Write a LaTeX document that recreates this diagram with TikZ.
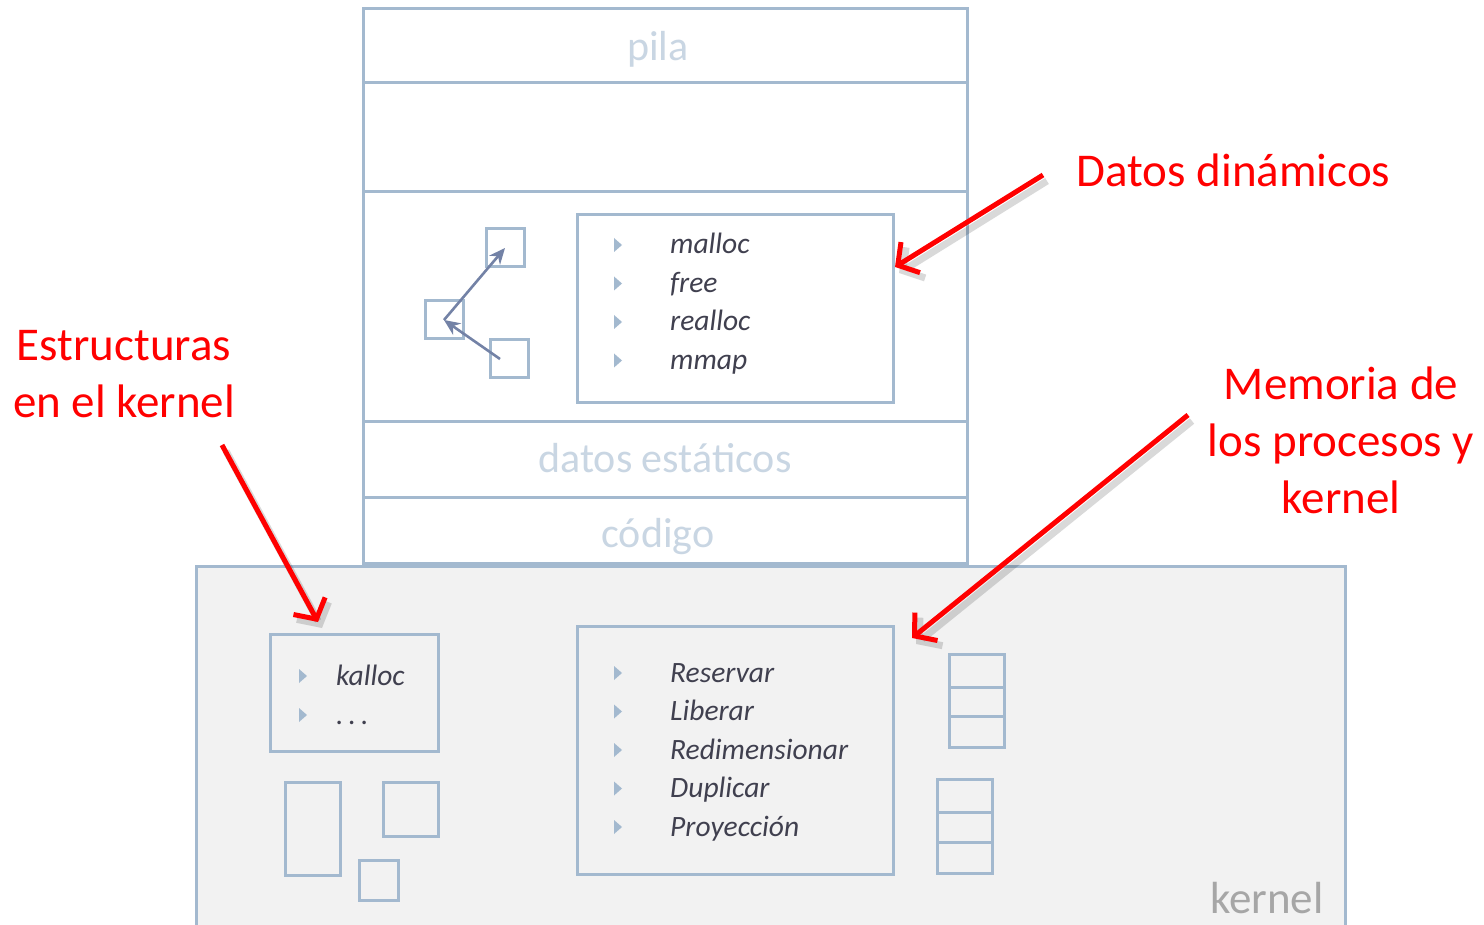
\documentclass[tikz,border=0pt]{standalone}
\usepackage{fontspec}
\setmainfont{Carlito}
\usetikzlibrary{arrows.meta}
\definecolor{rahmen}{HTML}{A3B9CF}
\definecolor{etiqueta}{HTML}{C9D6E3}
\definecolor{kgris}{HTML}{A6A6A6}
\definecolor{fondo}{HTML}{F2F2F2}
\definecolor{texto}{HTML}{40404F}
\definecolor{flecha}{HTML}{7382A6}
\definecolor{rojo}{HTML}{FF0000}
\tikzset{
  caja/.style={draw=rahmen, line width=3pt},
  cuadro/.style={caja, inner sep=0pt, minimum width=#1, minimum height=#1},
  seccion/.style={etiqueta, font=\fontsize{42}{50}\selectfont, anchor=base},
  item/.style={texto, font=\fontsize{29.5}{36}\selectfont\itshape, anchor=base west, inner sep=0pt},
  nota/.style={rojo, font=\fontsize{47}{57}\selectfont, align=center},
  aviso/.style={rojo, line width=5pt, -{Straight Barb[length=15pt, width=36pt]}},
  sombra/.style={black, opacity=0.15, line width=7pt, -{Straight Barb[length=15pt, width=36pt]}},
  bala/.pic={\fill[rahmen] (0,-7) -- (8,0) -- (0,7) -- cycle;}
}
\begin{document}
\begin{tikzpicture}[x=1pt,y=-1pt]
    \useasboundingbox (0,0) rectangle (1484,925);
    % Kernel
    \draw[caja, fill=fondo] (196,566) rectangle (1345,950);
    \node[kgris, font=\fontsize{45}{54}\selectfont, anchor=base east] (kernel) at (1327,913) {kernel};
    % Proceso (pila, heap, datos, codigo)
    \draw[caja, fill=white] (363,9) rectangle (967,563);
    \draw[caja] (363,83) -- (967,83);
    \draw[caja] (363,192) -- (967,192);
    \draw[caja] (363,421) -- (967,421);
    \draw[caja] (363,497) -- (967,497);
    \node[seccion] (pila) at (658,61) {pila};
    \node[seccion] (datos) at (665,472) {datos estáticos};
    \node[seccion] (codigo) at (658,547) {código};

    % Datos dinamicos
    \draw[caja] (577,215) rectangle (893,402);
    \foreach \t [count=\i] in {malloc,free,realloc,mmap} {
        \pic at (614,{245+38.5*(\i-1)}) {bala};
        \node[item] (dyn\i) at (670,{254+38.5*(\i-1)}) {\t};
    }
    % Bloques enlazados
    \node[cuadro=38pt] (blqA) at (505,248) {};
    \node[cuadro=38pt] (blqB) at (444,320) {};
    \node[cuadro=38pt] (blqC) at (509,359) {};
    \draw[flecha, line width=2.6pt, -{Stealth[length=16pt, width=14pt]}] (blqB.center) -- (blqA.center);
    \draw[flecha, line width=2.6pt, -{Stealth[length=16pt, width=14pt]}] ([xshift=-9pt]blqC.center) -- (blqB.center);

    % Estructuras del kernel
    \draw[caja] (270,634) rectangle (438,751);
    \pic at (299,676) {bala};
    \pic at (299,715) {bala};
    \node[item] (kalloc) at (336,685) {kalloc};
    \node[item] (puntos) at (336,724) {.\hspace{5pt}.\hspace{5pt}.};
    \draw[caja] (285,782) rectangle (340,875);
    \draw[caja] (383,782) rectangle (438,836);
    \draw[caja] (359,860) rectangle (398,900);

    % Memoria de los procesos
    \draw[caja] (577,626) rectangle (893,874);
    \foreach \t [count=\i] in {Reservar,Liberar,Redimensionar,Duplicar,Proyección} {
        \pic at (614,{673+38.5*(\i-1)}) {bala};
        \node[item] (mem\i) at (670,{682+38.5*(\i-1)}) {\t};
    }
    \draw[caja] (949,654) rectangle (1004,747);
    \draw[caja] (949,687) -- (1004,687);
    \draw[caja] (949,716) -- (1004,716);
    \draw[caja] (937,779) rectangle (992,873);
    \draw[caja] (937,812) -- (992,812);
    \draw[caja] (937,842) -- (992,842);

    % Anotaciones
    \node[nota, anchor=base west] (dinamicos) at (1073,187) {Datos dinámicos};
    \node[nota] (estructuras) at (124,374) {Estructuras\\en el kernel};
    \node[nota] (memoria) at (1341,440) {Memoria de\\los procesos y\\kernel};
    \coordinate (finDin) at (895,267);
    \coordinate (finEst) at (318,622);
    \coordinate (finMem) at (912,638);
    \coordinate (iniDin) at (1043,175);
    \coordinate (iniEst) at (222,445);
    \coordinate (iniMem) at (1188,415);
    % sombras
    \draw[sombra] ([shift={(4,6)}]iniDin) -- ([shift={(4,6)}]finDin);
    \draw[sombra] ([shift={(4,6)}]iniEst) -- ([shift={(4,6)}]finEst);
    \draw[sombra] ([shift={(4,6)}]iniMem) -- ([shift={(4,6)}]finMem);
    % flechas rojas
    \draw[aviso] (iniDin) -- (finDin);
    \draw[aviso] (iniEst) -- (finEst);
    \draw[aviso] (iniMem) -- (finMem);
\end{tikzpicture}
\end{document}
